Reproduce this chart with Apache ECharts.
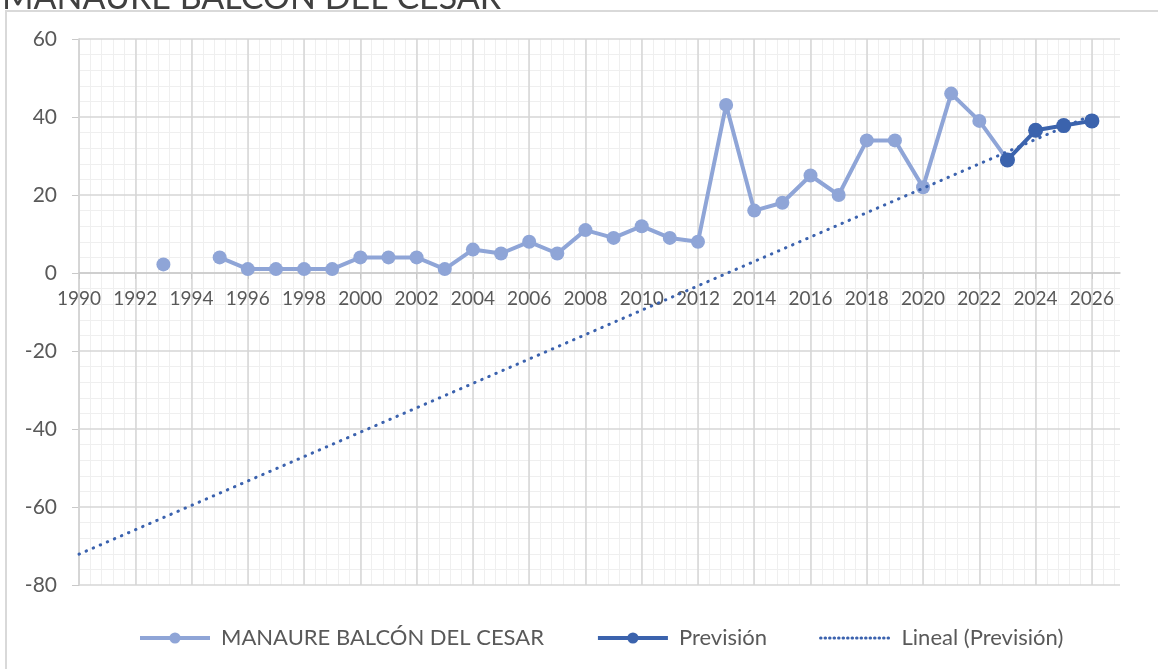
<!DOCTYPE html>
<html>
<head>
<meta charset="utf-8">
<script src="https://cdn.jsdelivr.net/npm/echarts@6/dist/echarts.min.js"></script>
<style>
  html, body { margin: 0; padding: 0; background: #fff; }
  #chart { width: 1158px; height: 669px; }
</style>
</head>
<body>
<div id="chart"></div>
<script>
  // historic series
  var histYears = [1993, 1994, 1995, 1996, 1997, 1998, 1999, 2000, 2001, 2002, 2003, 2004, 2005, 2006, 2007, 2008,
                   2009, 2010, 2011, 2012, 2013, 2014, 2015, 2016, 2017, 2018, 2019, 2020, 2021, 2022, 2023];
  var histValues = [2.2, null, 4, 1, 1, 1, 1, 4, 4, 4, 1, 6, 5, 8, 5, 11,
                    9, 12, 9, 8, 43.1, 16, 18, 25, 20, 34, 34, 22, 46, 39, 29];
  // forecast
  var prevYears = [2023, 2024, 2025, 2026];
  var prevValues = [29, 36.6, 37.8, 39];
  // linear trend ends
  var trendYears = [1990, 2026];
  var trendValues = [-72.1, 40.5];

  var font = 'Lato';
  var textColor = '#595959';
  var yMin = -80, yMax = 60;
  var gridTop = 39, gridBottom = 84, chartH = 669;
  // x axis sits on y = 0, offset up from the grid bottom
  var plotH = chartH - gridTop - gridBottom;
  var zeroOffset = -plotH * (0 - yMin) / (yMax - yMin);

  function pairs(xs, ys) {
    return xs.map(function (x, i) { return [x, ys[i] == null ? '-' : ys[i]]; });
  }

  var chart = echarts.init(document.getElementById('chart'));
  var option = {
    animation: false,
    textStyle: { fontFamily: font },
    title: {
      text: 'MANAURE BALCÓN DEL CESAR',
      left: -3,
      top: -24,
      textStyle: { fontFamily: font, fontSize: 34, fontWeight: 'normal', color: '#404040' }
    },
    graphic: [{
      type: 'rect',
      shape: { x: 6, y: 11, width: 1200, height: 700 },
      style: { fill: 'none', stroke: '#d9d9d9', lineWidth: 2 },
      z: -1
    }],
    grid: { left: 79, right: 38, top: gridTop, bottom: gridBottom, containLabel: false },
    legend: {
      top: 622,
      left: 133,
      itemWidth: 70,
      itemHeight: 14,
      itemGap: 52,
      textStyle: { fontFamily: font, fontSize: 22, color: textColor, padding: [0, 0, 0, 6] },
      data: [
        { name: 'MANAURE BALCÓN DEL CESAR', lineStyle: { width: 4 } },
        { name: 'Previsión', lineStyle: { width: 4 } },
        { name: 'Lineal (Previsión)', itemStyle: { opacity: 0 }, lineStyle: { width: 3, type: [0.5, 4] } }
      ]
    },
    xAxis: [
      {
        type: 'value', position: 'bottom', offset: zeroOffset, min: 1990, max: 2027, interval: 2, z: 2,
        axisLine: { show: true, onZero: false, lineStyle: { color: '#c9c9c9', width: 1.5 } },
        axisTick: { show: true, length: 6, lineStyle: { color: '#c9c9c9' } },
        axisLabel: { fontSize: 19, color: textColor, margin: 16, showMaxLabel: false,
                     formatter: function (v) { return String(v); } },
        splitLine: { show: true, showMaxLine: false, lineStyle: { color: '#d6d6d6', width: 1.5 } }
      },
      {
        type: 'value', position: 'top', min: 1990, max: 2027, interval: 0.4, z: -1,
        axisLine: { show: false, onZero: false }, axisTick: { show: false }, axisLabel: { show: false },
        splitLine: { show: true, showMaxLine: false, lineStyle: { color: '#efefef', width: 1 } }
      }
    ],
    yAxis: {
      type: 'value', min: yMin, max: yMax, interval: 20,
      axisLine: { show: true, onZero: false, lineStyle: { color: '#c9c9c9', width: 1.5 } },
      axisTick: { show: true, length: 7, lineStyle: { color: '#c9c9c9' } },
      axisLabel: { fontSize: 21, color: textColor, margin: 22 },
      splitLine: { show: true, lineStyle: { color: '#d6d6d6', width: 1.5 } },
      minorTick: { show: false, splitNumber: 5 },
      minorSplitLine: { show: true, lineStyle: { color: '#efefef', width: 1 } }
    },
    series: [
      {
        name: 'MANAURE BALCÓN DEL CESAR',
        type: 'line',
        data: pairs(histYears, histValues),
        symbol: 'circle',
        symbolSize: 14,
        showAllSymbol: true,
        connectNulls: false,
        z: 2,
        itemStyle: { color: '#8fa5d7' },
        lineStyle: { color: '#8fa5d7', width: 4 }
      },
      {
        name: 'Previsión',
        type: 'line',
        data: pairs(prevYears, prevValues),
        symbol: 'circle',
        symbolSize: 15,
        z: 4,
        itemStyle: { color: '#3b63ad' },
        lineStyle: { color: '#3b63ad', width: 4 }
      },
      {
        name: 'Lineal (Previsión)',
        type: 'line',
        data: pairs(trendYears, trendValues),
        symbol: 'none',
        z: 3,
        itemStyle: { color: '#3b62ae' },
        lineStyle: { color: '#3b62ae', width: 3, type: [0.5, 7.2], cap: 'round' }
      }
    ]
  };
  chart.setOption(option);
</script>
</body>
</html>
